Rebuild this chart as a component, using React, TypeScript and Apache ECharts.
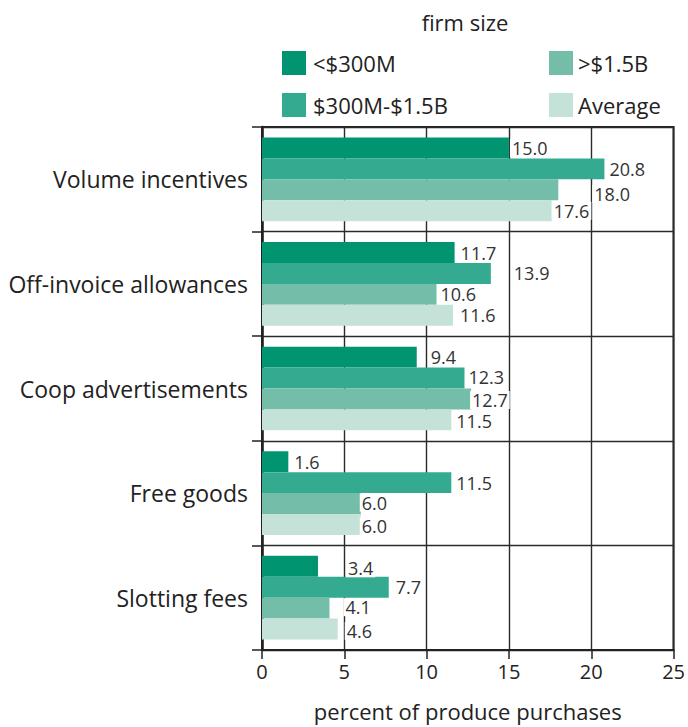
import React, { useEffect, useRef } from "react";
import * as echarts from "echarts";

const categories = [
  "Volume incentives",
  "Off-invoice allowances",
  "Coop advertisements",
  "Free goods",
  "Slotting fees",
];
const seriesNames = ["<$300M", "$300M-$1.5B", ">$1.5B", "Average"];
const small = [15.0, 11.7, 9.4, 1.6, 3.4];
const mid = [20.8, 13.9, 12.3, 11.5, 7.7];
const large = [18.0, 10.6, 12.7, 6.0, 4.1];
const average = [17.6, 11.6, 11.5, 6.0, 4.6];
const xTicks = [0, 5, 10, 15, 20, 25];

// label nudges [dx, dy] per series per category (layout only)
const labelNudges = [
  [[1, 0], [4, 0], [12, 0], [4, 0], [28, 2]],
  [[3, 0], [21, 0], [2, -1], [3, 0], [5, 0]],
  [[34, 4], [2, 0], [-1, 1], [-1, -1], [14, -1]],
  [[0, 0], [5, 0], [3, 1], [-1, 2], [7, 2]],
];
const colors = ["#009470", "#34ab91", "#74bea9", "#c5e2d9"];

export default function App() {
  const ref = useRef<HTMLDivElement>(null);
  useEffect(() => {
    if (!ref.current) return;
    const chart = echarts.init(ref.current, null, { renderer: "svg" });
    const font = "'Open Sans', sans-serif";
    const allValues = [small, mid, large, average];
    const series = allValues.map((vals, si) => ({
      name: seriesNames[si],
      type: "bar",
      barGap: "0%",
      barCategoryGap: "20%",
      itemStyle: { color: colors[si] },
      data: vals.map((v, ci) => ({
        value: v,
        label: { offset: labelNudges[si][ci] },
      })),
      label: {
        show: true,
        position: "right",
        distance: 0,
        formatter: (p: any) => Number(p.value).toFixed(1),
        fontFamily: font,
        fontSize: 18,
        lineHeight: 18,
        color: "#333",
        backgroundColor: "#fff",
        padding: [0, 2],
      },
    }));
    chart.setOption({
      animation: false,
      textStyle: { fontFamily: font },
      title: {
        text: "firm size",
        left: 460,
        top: 6,
        textAlign: "center",
        textStyle: { fontFamily: font, fontSize: 22, fontWeight: "normal", color: "#222" },
      },
      legend: [
        {
          data: [seriesNames[0], seriesNames[1]],
          orient: "vertical",
          left: 277,
          top: 46,
          itemWidth: 24,
          itemHeight: 24,
          itemGap: 18,
          icon: "rect",
          textStyle: { fontFamily: font, fontSize: 22, color: "#222", padding: [0, 0, 0, 2] },
        },
        {
          data: [seriesNames[2], seriesNames[3]],
          orient: "vertical",
          left: 544,
          top: 46,
          itemWidth: 24,
          itemHeight: 24,
          itemGap: 18,
          icon: "rect",
          textStyle: { fontFamily: font, fontSize: 22, color: "#222", padding: [0, 0, 0, 0] },
        },
      ],
      grid: {
        left: 262,
        right: 10,
        top: 127,
        bottom: 76,
        show: true,
        borderColor: "#222",
        borderWidth: 2,
        containLabel: false,
      },
      xAxis: {
        type: "value",
        min: xTicks[0],
        max: xTicks[xTicks.length - 1],
        interval: 5,
        name: "percent of produce purchases",
        nameLocation: "middle",
        nameGap: 50,
        nameTextStyle: { fontFamily: font, fontSize: 22, color: "#222" },
        axisLine: { show: true, lineStyle: { color: "#222", width: 2 } },
        axisTick: { show: true, length: 9, lineStyle: { color: "#222", width: 1.5 } },
        axisLabel: { fontFamily: font, fontSize: 20, color: "#222", margin: 11 },
        splitLine: { show: true, lineStyle: { color: "#2a2a2a", width: 1.4 } },
      },
      yAxis: {
        type: "category",
        data: categories,
        inverse: true,
        axisLine: { show: true, lineStyle: { color: "#222", width: 2.5 } },
        axisTick: { show: true, length: 10, lineStyle: { color: "#222", width: 1.5 } },
        axisLabel: { fontFamily: font, fontSize: 23, color: "#222", margin: 14 },
        splitLine: { show: true, lineStyle: { color: "#2a2a2a", width: 1.4 } },
      },
      series,
    });
    return () => chart.dispose();
  }, []);
  return <div ref={ref} style={{ width: 688, height: 727, position: "absolute", left: 0, top: 0 }} />;
}
